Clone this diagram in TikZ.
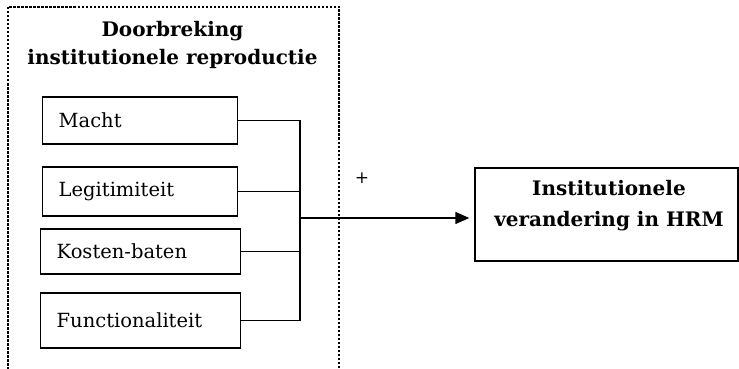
\documentclass[tikz,border=0pt]{standalone}
\usepackage{fontspec}
\setmainfont{DejaVu Serif}
\usetikzlibrary{arrows.meta,positioning}

\tikzset{
  factor/.style={draw, line width=1.4pt, anchor=west, text width=#1, align=left,
    inner xsep=16pt, font=\fontsize{19.5}{22}\selectfont},
  kop/.style={align=center, font=\fontsize{20}{28}\selectfont\bfseries},
  lijn/.style={line width=1.4pt}
}

\begin{document}
\begin{tikzpicture}[x=1pt,y=-1pt]
\useasboundingbox (0,0) rectangle (739,369);

\draw[dash pattern=on 2.5pt off 1.5pt, line width=1.1pt] (8,7) rectangle (339,380);
\node[kop] (titel) at (172.5,45) {Doorbreking\\institutionele reproductie};

\node[factor=163pt, minimum height=47pt] (macht) at (42,120.5) {Macht};
\node[factor=163pt, minimum height=49pt] (legit) at (42,191.5) {Legitimiteit};
\node[factor=168pt, minimum height=45pt] (kosten) at (40,251.5) {Kosten-baten};
\node[factor=168pt, minimum height=55pt] (functie) at (40,320.5) {Functionaliteit};

\node[draw, line width=1.4pt, minimum width=263pt, minimum height=93pt] (uitkomst) at (606.5,214.5) {};
\node[kop, font=\fontsize{20}{31}\selectfont\bfseries] (uitkomsttekst) at (609,206) {Institutionele\\verandering in HRM};

\coordinate (bovenaan) at (300,0);
\coordinate (knoop) at (300,218);
\draw[lijn] (macht.east) -| (bovenaan |- functie.east) -- (functie.east);
\draw[lijn] (legit.east) -- (legit.east -| bovenaan);
\draw[lijn] (kosten.east) -- (kosten.east -| bovenaan);
\draw[lijn, -{Triangle[length=14pt,width=12pt]}, shorten >=5pt] (knoop) -- (knoop -| uitkomst.west);

\node[font=\fontsize{17}{17}\selectfont] (plus) at (362,178) {+};
\end{tikzpicture}
\end{document}
